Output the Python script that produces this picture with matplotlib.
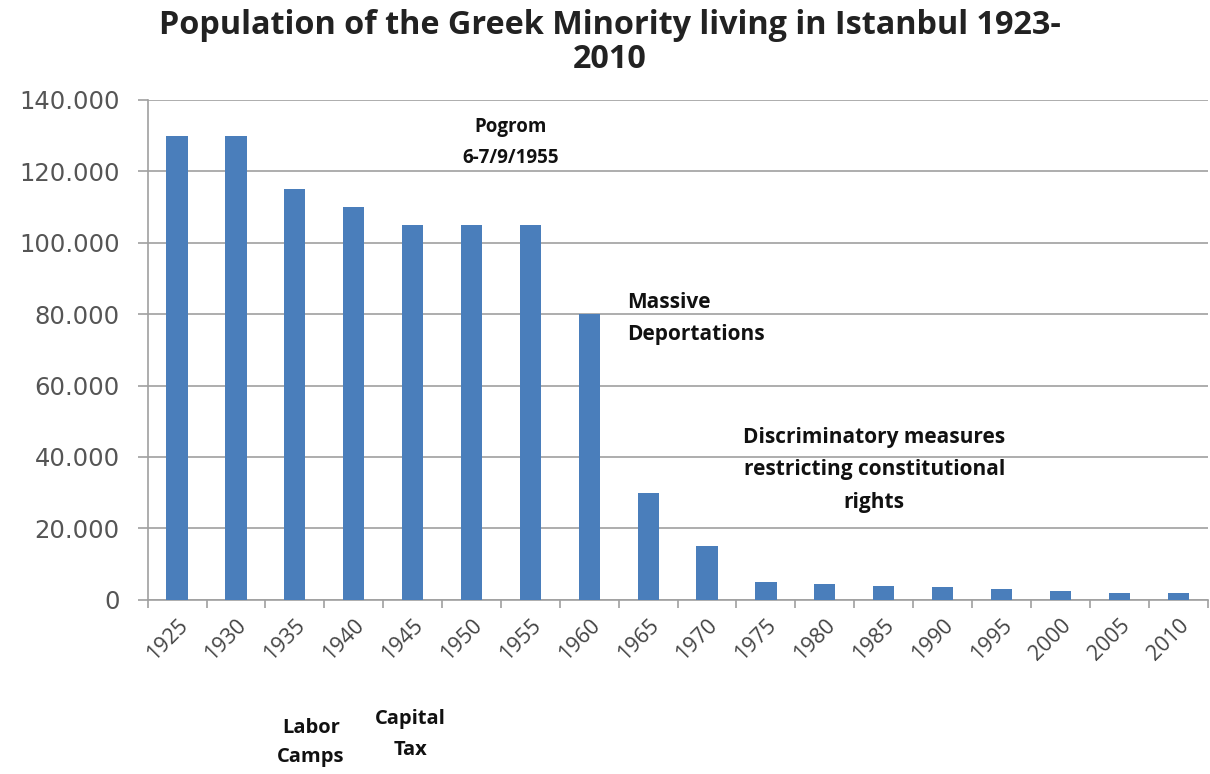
import matplotlib.pyplot as plt
import numpy as np
from matplotlib.ticker import FuncFormatter

years = ["1925", "1930", "1935", "1940", "1945", "1950", "1955", "1960", "1965",
         "1970", "1975", "1980", "1985", "1990", "1995", "2000", "2005", "2010"]
population = [130000, 130000, 115000, 110000, 105000, 105000, 105000, 80000, 30000,
              15000, 5000, 4500, 4000, 3500, 3000, 2500, 2000, 1800]

plt.rcParams["font.family"] = ["Open Sans", "DejaVu Sans"]

fig = plt.figure(figsize=(12.1, 7.74), dpi=100)
ax = fig.add_axes([0.122, 0.225, 0.876, 0.646])

x = np.arange(len(years))
ax.bar(x, population, width=0.36, color="#4a7ebb", zorder=3)

ax.set_xlim(-0.5, len(years) - 0.5)
ax.set_ylim(0, 140000)
ax.set_yticks(np.arange(0, 140001, 20000))
ax.yaxis.set_major_formatter(FuncFormatter(lambda v, p: f"{int(v):,}".replace(",", ".")))
ax.grid(axis="y", color="#a0a0a0", lw=1.2, zorder=0)

# category labels at centers, tick marks at slot boundaries
ax.set_xticks(x)
ax.set_xticklabels(years, rotation=45, ha="right", rotation_mode="anchor",
                   fontsize=15.5, color="#444444")
ax.tick_params(axis="x", which="major", length=0, pad=11)
ax.set_xticks(np.arange(-0.5, len(years), 1), minor=True)
ax.tick_params(axis="x", which="minor", length=6, color="#a0a0a0", width=1.2)
ax.tick_params(axis="y", length=7, color="#a0a0a0", width=1.2, labelsize=17.5,
               labelcolor="#555555", pad=13)
for lbl in ax.get_yticklabels():
    lbl.set_family("DejaVu Sans")

for side in ["top", "right"]:
    ax.spines[side].set_visible(False)
for side in ["left", "bottom"]:
    ax.spines[side].set_color("#a0a0a0")
    ax.spines[side].set_linewidth(1.2)

fig.text(0.504, 0.945, "Population of the Greek Minority living in Istanbul 1923-\n2010",
         ha="center", va="center", fontsize=23.3, fontweight="bold", color="#222222",
         linespacing=1.05)

ax.text(5.67, 128000, "Pogrom\n6-7/9/1955", ha="center", va="center", fontsize=13.5,
        fontweight="bold", color="#111111", linespacing=1.75)
ax.text(7.64, 78700, "Massive\nDeportations", ha="left", va="center", fontsize=15,
        fontweight="bold", color="#111111", linespacing=1.68)
ax.text(11.84, 36400, "Discriminatory measures\nrestricting constitutional\nrights",
        ha="center", va="center", fontsize=15, fontweight="bold", color="#111111",
        linespacing=1.74)
fig.text(0.257, 0.041, "Labor\nCamps", ha="center", va="center", fontsize=14.5,
         fontweight="bold", color="#111111", linespacing=1.6)
fig.text(0.339, 0.051, "Capital\nTax", ha="center", va="center", fontsize=14.5,
         fontweight="bold", color="#111111", linespacing=1.7)

fig.savefig("out.png", dpi=100)
